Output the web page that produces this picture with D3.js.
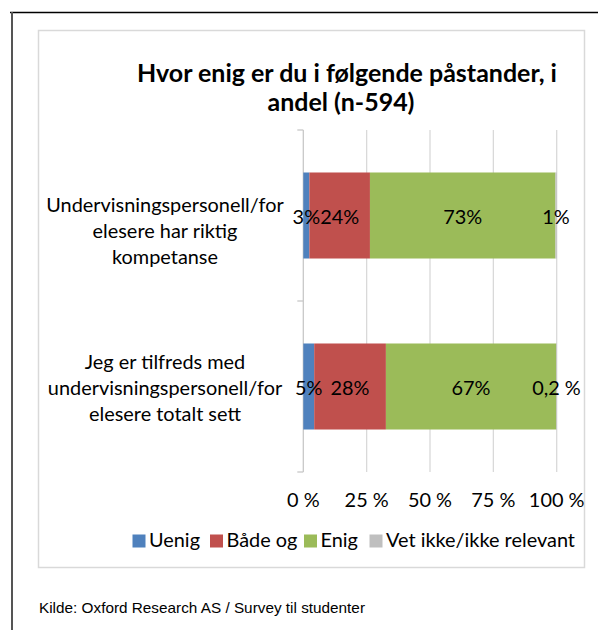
<!DOCTYPE html>
<html><head><meta charset="utf-8">
<script src="https://cdn.jsdelivr.net/npm/d3@7"></script>
<style>html,body{margin:0;padding:0;background:#fff;} svg{display:block}</style>
</head><body>
<script>
// ---- data ----
const categories = ["Undervisningspersonell/for elesere har riktig kompetanse",
                    "Jeg er tilfreds med undervisningspersonell/for elesere totalt sett"];
const categoryLines = [["Undervisningspersonell/for", "elesere har riktig", "kompetanse"],
                       ["Jeg er tilfreds med", "undervisningspersonell/for", "elesere totalt sett"]];
const seriesNames = ["Uenig", "Både og", "Enig", "Vet ikke/ikke relevant"];
const seriesColors = ["#4f81bd", "#c0504d", "#9bbb59", "#bfbfbf"];
const uenig   = [2.4, 4.3];
const baadeOg = [23.9, 28.3];
const enig    = [73.2, 67.2];
const vetIkke = [0.5, 0.2];
const labelsUenig   = ["3%", "5%"];
const labelsBaadeOg = ["24%", "28%"];
const labelsEnig    = ["73%", "67%"];
const labelsVetIkke = ["1%", "0,2 %"];
const xTicks = [0, 25, 50, 75, 100];
const xTickLabels = ["0 %", "25 %", "50 %", "75 %", "100 %"];
const titleLines = ["Hvor enig er du i følgende påstander, i", "andel (n-594)"];
const sourceText = "Kilde: Oxford Research AS / Survey til studenter";

// ---- layout ----
const W = 598, H = 630;
const svg = d3.select("body").append("svg").attr("width", W).attr("height", H);
const FONT = "Lato, 'Open Sans', sans-serif";

function fit(text, family, weight, target) {
  const t = svg.append("text").attr("font-family", family).attr("font-weight", weight)
    .attr("font-size", 100).text(text);
  const w = t.node().getComputedTextLength();
  t.remove();
  return 100 * target / w;
}
const bodySize = fit("Vet ikke/ikke relevant", FONT, "normal", 189);
const titleSize = fit(titleLines[0], FONT, "bold", 420);
const SRC_FONT = "'Liberation Sans Narrow', 'Liberation Sans', Arial, sans-serif";

// outer document frame
svg.append("line").attr("x1", 10).attr("x2", W).attr("y1", 12.5).attr("y2", 12.5)
  .attr("stroke", "#000").attr("stroke-width", 1.5);
svg.append("line").attr("x1", 12).attr("x2", 12).attr("y1", 12).attr("y2", H)
  .attr("stroke", "#555").attr("stroke-width", 2);

// chart frame
svg.append("rect").attr("x", 38.5).attr("y", 30.5).attr("width", 546).attr("height", 537)
  .attr("fill", "#fff").attr("stroke", "#d9d9d9").attr("stroke-width", 1.5);

// title
svg.append("g").selectAll("text").data(titleLines).join("text")
  .attr("x", (d, i) => i === 0 ? 347 : 341)
  .attr("y", (d, i) => 82 + i * 29)
  .attr("text-anchor", "middle")
  .attr("font-family", FONT).attr("font-weight", "bold").attr("font-size", titleSize)
  .attr("fill", "#000").text(d => d);

// scales
const x = d3.scaleLinear().domain([0, 100]).range([303.3, 556.7]);
const y = d3.scaleBand().domain(categories).range([130, 472])
  .paddingInner(0.497).paddingOuter(0.2485);

// gridlines
svg.append("g").selectAll("line").data(xTicks.filter(d => d > 0)).join("line")
  .attr("x1", d => x(d)).attr("x2", d => x(d)).attr("y1", 130).attr("y2", 472)
  .attr("stroke", "#d9d9d9").attr("stroke-width", 1.3);

// vertical category axis
const axisG = svg.append("g");
axisG.append("line").attr("x1", x(0)).attr("x2", x(0)).attr("y1", 130).attr("y2", 472)
  .attr("stroke", "#c8c8c8").attr("stroke-width", 1.3);
const step = y.step();
axisG.selectAll("line.tick").data([0, 1, 2]).join("line").attr("class", "tick")
  .attr("x1", x(0) - 6).attr("x2", x(0))
  .attr("y1", d => 130 + d * step).attr("y2", d => 130 + d * step)
  .attr("stroke", "#c8c8c8").attr("stroke-width", 1.3);

// stacked data
const rows = categories.map((c, i) => ({
  cat: c, Uenig: uenig[i], "Både og": baadeOg[i], Enig: enig[i], "Vet ikke/ikke relevant": vetIkke[i]
}));
const labelSets = [labelsUenig, labelsBaadeOg, labelsEnig, labelsVetIkke];
const stack = d3.stack().keys(seriesNames).offset(d3.stackOffsetExpand);
const stacked = stack(rows);

const barsG = svg.append("g");
stacked.forEach((layer, si) => {
  barsG.append("g").attr("fill", seriesColors[si]).selectAll("rect").data(layer).join("rect")
    .attr("x", d => x(d[0] * 100)).attr("width", d => x(d[1] * 100) - x(d[0] * 100))
    .attr("y", d => y(d.data.cat)).attr("height", y.bandwidth());
});
stacked.forEach((layer, si) => {
  barsG.append("g").selectAll("text").data(layer).join("text")
    .attr("x", d => x((d[0] + d[1]) * 50))
    .attr("y", d => y(d.data.cat) + y.bandwidth() / 2 + 8)
    .attr("text-anchor", "middle")
    .attr("font-family", FONT).attr("font-size", bodySize).attr("fill", "#000")
    .text((d, i) => labelSets[si][i]);
});

// category labels
const catOffsets = [22, 8];
categories.forEach((c, i) => {
  const cy = y(c) + y.bandwidth() / 2 + catOffsets[i];
  svg.append("g").selectAll("text").data(categoryLines[i]).join("text")
    .attr("x", 165).attr("y", (d, j) => cy + (j - 1) * 26)
    .attr("text-anchor", "middle")
    .attr("font-family", FONT).attr("font-size", bodySize).attr("fill", "#000")
    .text(d => d);
});

// x tick labels
svg.append("g").selectAll("text").data(xTicks).join("text")
  .attr("x", d => x(d)).attr("y", 507).attr("text-anchor", "middle")
  .attr("font-family", FONT).attr("font-size", bodySize).attr("fill", "#000")
  .text((d, i) => xTickLabels[i]);

// legend
const legendX = [132.5, 210, 304, 369.5];
const leg = svg.append("g");
seriesNames.forEach((name, i) => {
  leg.append("rect").attr("x", legendX[i]).attr("y", 534.5).attr("width", 13).attr("height", 13)
    .attr("fill", seriesColors[i]);
  const t = leg.append("text").attr("x", legendX[i] + 16.5).attr("y", 547)
    .attr("font-family", FONT).attr("font-size", bodySize).attr("fill", "#000").text(name);
  if (i === seriesNames.length - 1) {
    t.attr("textLength", 189).attr("lengthAdjust", "spacingAndGlyphs");
  }
});

// source
svg.append("text").attr("x", 39).attr("y", 613)
  .attr("font-family", SRC_FONT).attr("font-size", 15).attr("fill", "#000")
  .attr("textLength", 326).attr("lengthAdjust", "spacingAndGlyphs")
  .text(sourceText);
</script>
</body></html>
